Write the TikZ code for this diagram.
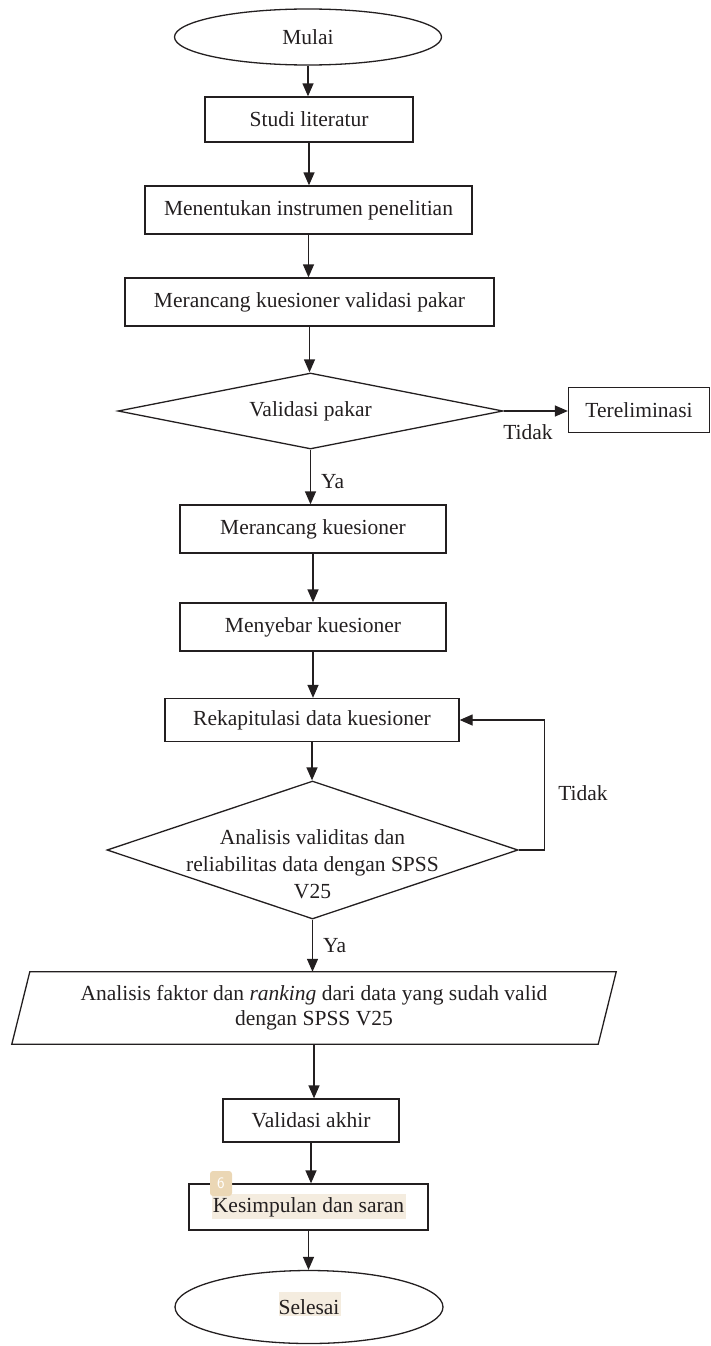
\documentclass[tikz,border=0pt]{standalone}
\usepackage{fontspec}
\setmainfont{Liberation Serif}
\usetikzlibrary{shapes.geometric,arrows.meta,calc}
\definecolor{ink}{HTML}{231F20}
\definecolor{hilite}{HTML}{F4ECDF}
\definecolor{badge}{HTML}{EBD7B5}
\tikzset{
  base/.style={draw=ink, line width=1.3pt, text=ink, font=\fontsize{21.5}{25}\selectfont, inner sep=0pt, align=center},
  procbox/.style={base, rectangle},
  termbox/.style={base, ellipse},
  decbox/.style={base, diamond},
  lbl/.style={text=ink, font=\fontsize{21.5}{25}\selectfont, inner sep=0pt},
  arr/.style={draw=ink, line width=1.3pt, -{Triangle[length=13pt,width=11pt]}},
}
\begin{document}
\begin{tikzpicture}[x=1pt,y=-1pt]
\useasboundingbox (0,0) rectangle (711,1346);
% highlight artefacts
\fill[hilite] (212,1194) rectangle (406,1219);
\fill[hilite] (279,1292) rectangle (341,1316);
% nodes
\node[termbox, minimum width=267pt, minimum height=56pt] (mulai) at (308,37) {Mulai};
\node[procbox, minimum width=208pt, minimum height=45pt] (studi) at (309,119.5) {Studi literatur};
\node[procbox, minimum width=327pt, minimum height=48pt] (inst) at (308.5,210) {Menentukan instrumen penelitian};
\node[procbox, minimum width=369pt, minimum height=48pt] (kval) at (309.5,302) {Merancang kuesioner validasi pakar};
\node[decbox, minimum width=385pt, minimum height=76pt] (d1) at (310.5,411) {};
\node[lbl] (d1t) at (d1.center) {Validasi pakar};
\node[procbox, minimum width=141pt, minimum height=45pt] (terel) at (639,410) {Tereliminasi};
\node[procbox, minimum width=266pt, minimum height=48pt] (mk) at (313,529) {Merancang kuesioner};
\node[procbox, minimum width=266pt, minimum height=48pt] (sebar) at (313,627) {Menyebar kuesioner};
\node[procbox, minimum width=294pt, minimum height=43pt] (rekap) at (312,720) {Rekapitulasi data kuesioner};
\node[decbox, minimum width=411pt, minimum height=138pt] (d2) at (312.5,850) {};
\node[lbl, align=center, font=\fontsize{21.5}{27}\selectfont] (d2t) at (312.5,864) {Analisis validitas dan\\reliabilitas data dengan SPSS\\V25};
\node[lbl, align=center, minimum width=586pt, minimum height=72pt] (para) at (314,1008) {Analisis faktor dan \textit{ranking} dari data yang sudah valid\\dengan SPSS V25};
\draw[draw=ink, line width=1.3pt] ([xshift=9pt]para.north west) -- ([xshift=9pt]para.north east) -- ([xshift=-9pt]para.south east) -- ([xshift=-9pt]para.south west) -- cycle;
\node[procbox, minimum width=176pt, minimum height=43pt] (va) at (311,1120.5) {Validasi akhir};
\node[procbox, minimum width=239pt, minimum height=46pt] (kes) at (308.5,1207) {Kesimpulan dan saran};
\node[termbox, minimum width=268pt, minimum height=73pt] (sel) at (309,1307) {Selesai};
% badge artefact
\node[fill=badge, rounded corners=3pt, minimum width=22pt, minimum height=25pt, inner sep=0pt, text=white, font=\sffamily\fontsize{16}{16}\selectfont] (bdg) at (221,1183.5) {6};
% connectors
\draw[arr] (mulai.south) -- (mulai.south |- studi.north);
\draw[arr] (studi.south) -- (studi.south |- inst.north);
\draw[arr] (inst.south) -- (inst.south |- kval.north);
\draw[arr] (kval.south) -- (kval.south |- d1.north);
\draw[arr] (d1.east) -- (d1.east -| terel.west);
\node[lbl] (tidak1) at (528,432) {Tidak};
\draw[arr] (d1.south) -- (d1.south |- mk.north);
\node[lbl, anchor=west] (ya1) at (321,482) {Ya};
\draw[arr] (mk.south) -- (mk.south |- sebar.north);
\draw[arr] (sebar.south) -- (sebar.south |- rekap.north);
\draw[arr] (rekap.south) -- (rekap.south |- d2.north);
\draw[arr] (d2.east) -- ++(26,0) coordinate (loopc) |- (rekap.east);
\node[lbl] (tidak2) at (583,793) {Tidak};
\draw[arr] (d2.south) -- (d2.south |- para.north);
\node[lbl, anchor=west] (ya2) at (323,946) {Ya};
\draw[arr] (para.south) -- (para.south |- va.north);
\draw[arr] (va.south) -- (va.south |- kes.north);
\draw[arr] (kes.south) -- (kes.south |- sel.north);
\end{tikzpicture}
\end{document}
